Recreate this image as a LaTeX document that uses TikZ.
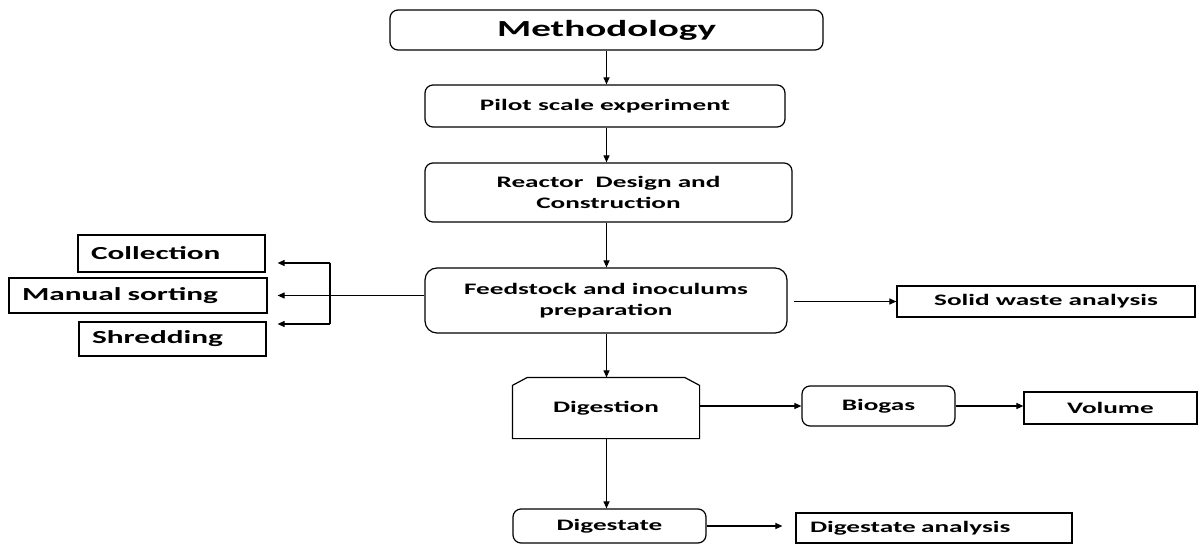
\documentclass[tikz,border=0pt]{standalone}
\usepackage{fontspec}
\setmainfont{Carlito}[FakeStretch=1.7]
\usetikzlibrary{arrows.meta,calc}
\begin{document}
\begin{tikzpicture}[x=1pt,y=-1pt,
  box/.style={draw, line width=1.2pt, inner sep=0pt, align=center, font=\bfseries\fontsize{16}{20.5}\selectfont},
  rbox/.style={box, rounded corners=8pt},
  lbox/.style={box, align=left, inner xsep=13pt, font=\bfseries\fontsize{18.4}{22}\selectfont},
  arr/.style={line width=1.1pt, -{Triangle[length=7pt,width=6pt]}},
  ln/.style={line width=1.1pt}]
\fill[white] (0,0) rectangle (1199,545);
\useasboundingbox (0,0) rectangle (1199,545);

\node[rbox, minimum width=433pt, minimum height=40pt, font=\bfseries\fontsize{23}{27}\selectfont] (meth) at (606.5,30) {Methodology};
\node[rbox, minimum width=360pt, minimum height=42pt] (pilot) at (605,106) {Pilot scale experiment};
\node[rbox, minimum width=367pt, minimum height=59pt] (reactor) at (608.5,192.5) {Reactor\ \ Design and\\Construction};
\node[rbox, rounded corners=12pt, minimum width=362pt, minimum height=65pt] (feed) at (606,300.5) {Feedstock and inoculums\\preparation};

\node[lbox, text width=161pt, minimum height=37pt] (coll) at (171.5,253.5) {Collection};
\node[lbox, text width=232pt, minimum height=35pt] (manual) at (138,295.5) {Manual sorting};
\node[lbox, text width=161pt, minimum height=34pt] (shred) at (172.5,339) {Shredding};

\node[box, minimum width=298pt, minimum height=31pt] (solid) at (1046,301.5) {Solid waste analysis};

\node[box, draw=none, minimum width=186pt, minimum height=60pt] (dig) at (606,408) {Digestion};
\draw[line width=1.2pt] (dig.south west) -- ($(dig.north west)+(0,8)$) -- ($(dig.north west)+(15,0)$) -- ($(dig.north east)+(-15,0)$) -- ($(dig.north east)+(0,8)$) -- (dig.south east) -- cycle;

\node[rbox, minimum width=153pt, minimum height=40pt] (biogas) at (878.5,406) {Biogas};
\node[box, minimum width=173pt, minimum height=32pt] (volume) at (1110.5,408) {Volume};
\node[rbox, minimum width=193pt, minimum height=34pt] (digestate) at (609.5,526) {Digestate};
\node[box, align=left, inner xsep=14pt, text width=248pt, minimum height=30pt] (digan) at (934,528) {Digestate analysis};

% vertical flow
\draw[arr] (meth.south) -- (meth.south |- pilot.north);
\draw[arr] (pilot.south -| meth.south) -- (meth.south |- reactor.north);
\draw[arr] (reactor.south -| meth.south) -- (meth.south |- feed.north);
\draw[arr] (feed.south -| meth.south) -- (meth.south |- dig.north);
\draw[arr] (dig.south -| meth.south) -- (meth.south |- digestate.north);

% left branch
\coordinate (bt) at (330,263);
\coordinate (bb) at (330,324);
\draw[ln] (bt) -- (bb);
\draw[arr, shorten >=12pt] (bt) -- (bt -| coll.east);
\draw[arr, shorten >=11pt] (bb) -- (bb -| shred.east);
\draw[arr, shorten >=10pt] (feed.west |- manual.east) -- (manual.east);

% right branches
\draw[arr] ([xshift=6pt]feed.east |- solid.west) -- (solid.west);
\draw[arr] (dig.east |- biogas.west) -- (biogas.west);
\draw[arr] (biogas.east) -- (volume.west |- biogas.east);
\draw[arr, shorten >=13pt] (digestate.east) -- (digestate.east -| digan.west);
\end{tikzpicture}
\end{document}
